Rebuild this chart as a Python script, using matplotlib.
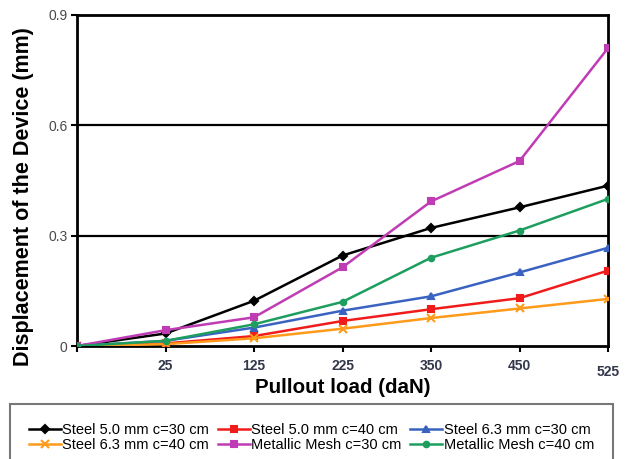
import numpy as np
import matplotlib
matplotlib.use("Agg")
import matplotlib.pyplot as plt

plt.rcParams['font.family'] = ['Liberation Sans', 'DejaVu Sans']

loads = [0, 25, 125, 225, 350, 450, 525]
tick_labels = ['', '25', '125', '225', '350', '450', '525']

steel50_c30 = [0, 0.034, 0.123, 0.246, 0.321, 0.377, 0.436]
steel50_c40 = [0, 0.007, 0.027, 0.068, 0.100, 0.130, 0.205]
steel63_c30 = [0, 0.014, 0.050, 0.096, 0.135, 0.200, 0.267]
steel63_c40 = [0, 0.005, 0.021, 0.047, 0.076, 0.102, 0.128]
mesh_c30 = [0, 0.043, 0.078, 0.214, 0.393, 0.503, 0.810]
mesh_c40 = [0, 0.014, 0.059, 0.120, 0.240, 0.314, 0.400]

series = [
    ("Steel 5.0 mm c=30 cm", steel50_c30, "#000000", "D", 4),
    ("Steel 5.0 mm c=40 cm", steel50_c40, "#f01c1c", "s", 5),
    ("Steel 6.3 mm c=30 cm", steel63_c30, "#3a62c0", "^", 4.5),
    ("Steel 6.3 mm c=40 cm", steel63_c40, "#ff9a1a", "x", 6),
    ("Metallic Mesh c=30 cm", mesh_c30, "#c03cb4", "s", 4),
    ("Metallic Mesh c=40 cm", mesh_c40, "#1e9e5e", "o", 4),
]

fig = plt.figure(figsize=(6.28, 4.59), dpi=100)
ax = fig.add_axes([77 / 628, 1 - 346 / 459, (608 - 77) / 628, (346 - 15) / 459])

x = np.arange(len(loads))
handles = []
for name, vals, color, marker, ms in series:
    h, = ax.plot(x, vals, color=color, marker=marker, markersize=ms,
                 linewidth=1.8, markeredgewidth=1.5, label=name, zorder=3)
    handles.append(h)

ax.set_xlim(0, len(loads) - 1)
ax.set_ylim(0, 0.9)
ax.set_yticks([0, 0.3, 0.6, 0.9])
ax.set_yticklabels(['0', '0.3', '0.6', '0.9'])
ax.set_xticks(x)
ax.set_xticklabels(tick_labels)

for yv in [0.3, 0.6]:
    ax.axhline(yv, color='black', linewidth=1.6, zorder=1)

for sp in ax.spines.values():
    sp.set_linewidth(2)
    sp.set_color('black')

ax.tick_params(axis='x', direction='out', length=4, width=1.5,
               labelsize=10, labelcolor='#33384a', pad=5)
ax.tick_params(axis='y', direction='out', length=4, width=1.5,
               labelsize=10, labelcolor='#4a4a4a', pad=3)
for lbl in ax.get_xticklabels():
    lbl.set_fontweight('bold')
ax.xaxis.get_major_ticks()[-1].set_pad(10)

ax.set_xlabel("Pullout load (daN)", fontsize=14.8, fontweight='bold')
ax.xaxis.set_label_coords(0.5, -(393 - 346) / 331, transform=ax.transAxes)
ax.xaxis.label.set_va('baseline')
ax.set_ylabel("Displacement of the Device (mm)", fontsize=15.5, fontweight='bold')
ax.yaxis.set_label_coords(-(77 - 24) / 531, 1 - (197 - 15) / 331)
ax.yaxis.label.set_va('center')

# legend fills row by row in the original, matplotlib fills by column
order = [0, 3, 1, 4, 2, 5]
leg = fig.legend([handles[i] for i in order], [series[i][0] for i in order],
                 loc='upper left', bbox_to_anchor=(10 / 628, 1 - 404 / 459, 603 / 628, 0),
                 mode='expand', ncol=3, fontsize=10.5, frameon=True, fancybox=False,
                 handlelength=2.2, handletextpad=0.1, labelspacing=0.1,
                 borderpad=1.3, columnspacing=1.0, borderaxespad=0)
leg.get_frame().set_edgecolor('#555555')
leg.get_frame().set_linewidth(1.5)

fig.savefig("out.png", dpi=100)
